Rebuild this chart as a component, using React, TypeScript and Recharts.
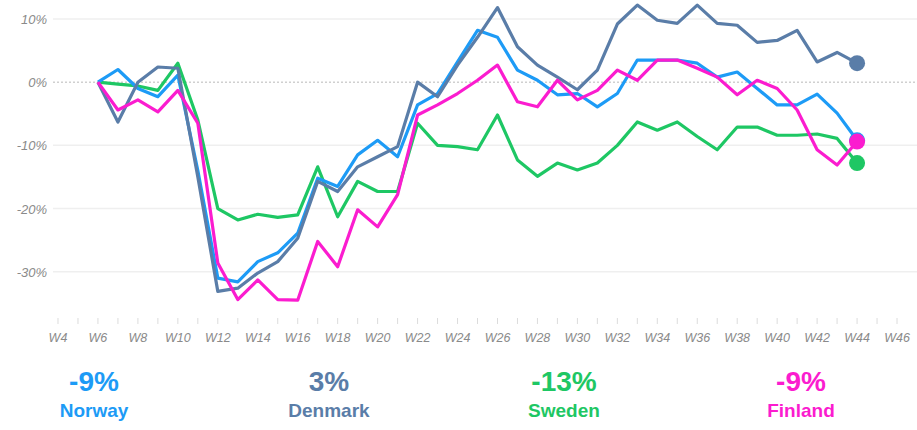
import React from "react";
import { LineChart, Line, XAxis, YAxis, ReferenceLine } from "recharts";

// ── Data (weekly change vs. W6, %) ─────────────────────────────────────────────
const WEEKS = [
    6, 7, 8, 9, 10, 11, 12, 13, 14, 15, 16, 17, 18, 19, 20, 21, 22, 23, 24, 25,
    26, 27, 28, 29, 30, 31, 32, 33, 34, 35, 36, 37, 38, 39, 40, 41, 42, 43, 44,
];

const NORWAY = [
    0, 2, -1, -2.3, 1.1, -14, -31, -31.6, -28.4, -27, -23.9, -15.2, -16.5, -11.5, -9.2,
    -11.8, -3.6, -1.8, 3.2, 8.2, 7.1, 1.9, 0.3, -2, -1.8, -3.9, -1.8, 3.5, 3.5, 3.5,
    3, 0.8, 1.6, -1, -3.6, -3.6, -1.9, -4.9, -9.2,
];
const DENMARK = [
    0, -6.3, 0, 2.4, 2.2, -15, -33.1, -32.6, -30.2, -28.4, -24.7, -15.7, -17.3, -13.4, -11.8,
    -10.2, 0, -2.3, 2.7, 7.1, 11.8, 5.6, 2.7, 0.8, -1.2, 1.9, 9.2, 12.2, 9.8, 9.3,
    12.2, 9.3, 9, 6.3, 6.6, 8.2, 3.2, 4.7, 3,
];
const SWEDEN = [
    0, -0.3, -0.6, -1.3, 3, -6, -20, -21.8, -20.9, -21.4, -21, -13.4, -21.3, -15.7, -17.3,
    -17.3, -6.5, -10, -10.2, -10.7, -5.2, -12.3, -14.9, -12.8, -13.9, -12.8, -10, -6.3, -7.6, -6.3,
    -8.6, -10.7, -7.1, -7.1, -8.4, -8.4, -8.2, -8.9, -12.8,
];
const FINLAND = [
    0, -4.4, -2.8, -4.7, -1.3, -6.5, -28.6, -34.4, -31.3, -34.4, -34.5, -25.2, -29.2, -20.2, -22.9,
    -17.8, -5.2, -3.6, -1.8, 0.3, 2.7, -3.1, -3.9, 0.3, -2.8, -1.3, 1.9, 0.3, 3.5, 3.5,
    2.2, 0.8, -2, 0.3, -1, -4.4, -10.7, -13.1, -9.4,
];

const X_TICKS = Array.from({ length: 43 }, (_, i) => i + 4); // W4..W46, label every 2nd
const Y_TICKS = [10, 0, -10, -20, -30];

const SERIES = [
    { key: "sweden", name: "Sweden", values: SWEDEN, color: "#1ec764" },
    { key: "norway", name: "Norway", values: NORWAY, color: "#1d9bf6" },
    { key: "denmark", name: "Denmark", values: DENMARK, color: "#5a7da8" },
    { key: "finland", name: "Finland", values: FINLAND, color: "#fb1ccf" },
];

// legend order as shown under the chart
const LEGEND = [
    { name: "Norway", value: "-9%", color: "#1d9bf6", center: 94 },
    { name: "Denmark", value: "3%", color: "#5a7da8", center: 329 },
    { name: "Sweden", value: "-13%", color: "#1ec764", center: 564 },
    { name: "Finland", value: "-9%", color: "#fb1ccf", center: 801 },
];

const data = WEEKS.map((w, i) => {
    const row: Record<string, number> = { week: w };
    SERIES.forEach((s) => {
        row[s.key] = s.values[i];
    });
    return row;
});

const FONT = "'Liberation Sans', Arial, Helvetica, sans-serif";

const WeekTick = (props: any) => {
    const { x, y, payload } = props;
    const w = payload.value as number;
    return (
        <g>
            <line x1={x} x2={x} y1={y - 6} y2={y} stroke="#dcdcdc" strokeWidth={1} />
            {w % 2 === 0 && (
                <text x={x} y={y + 18} textAnchor="middle" fontSize={12.5} fontStyle="italic" fill="#8a8a8a" fontFamily={FONT}>
                    {`W${w}`}
                </text>
            )}
        </g>
    );
};

const PctTick = (props: any) => {
    const { y, payload } = props;
    return (
        <text x={47} y={y + 5} textAnchor="end" fontSize={13} fontStyle="italic" fill="#8a8a8a" fontFamily={FONT}>
            {`${payload.value}%`}
        </text>
    );
};

const endDot = (color: string) => (p: any) => {
    if (p.index !== WEEKS.length - 1) return <g key={`d-${p.index}`} />;
    return <circle key={`d-${p.index}`} cx={p.cx} cy={p.cy} r={8} fill={color} />;
};

export default function App() {
    return (
        <div style={{ position: "absolute", left: 0, top: 0, width: 917, height: 430, background: "#fff" }}>
            <LineChart width={917} height={345} data={data} margin={{ top: 0, right: 0, bottom: 0, left: 0 }}>
                {Y_TICKS.filter((v) => v !== 0).map((v) => (
                    <ReferenceLine key={v} y={v} stroke="#efefef" strokeWidth={1.5} />
                ))}
                <ReferenceLine y={0} stroke="#d0d0d0" strokeWidth={1.5} strokeDasharray="2 2" />
                <XAxis
                    dataKey="week"
                    type="number"
                    domain={[3.75, 47]}
                    ticks={X_TICKS}
                    interval={0}
                    height={29}
                    axisLine={false}
                    tickLine={false}
                    tick={<WeekTick />}
                />
                <YAxis
                    type="number"
                    domain={[-37, 13]}
                    ticks={Y_TICKS}
                    width={53}
                    axisLine={false}
                    tickLine={false}
                    tick={<PctTick />}
                />
                {SERIES.map((s) => (
                    <Line
                        key={s.key}
                        dataKey={s.key}
                        stroke={s.color}
                        strokeWidth={3.2}
                        strokeLinejoin="round"
                        dot={endDot(s.color)}
                        activeDot={false}
                        isAnimationActive={false}
                    />
                ))}
            </LineChart>
            {LEGEND.map((l) => (
                <div
                    key={l.name}
                    style={{
                        position: "absolute",
                        left: l.center - 80,
                        top: 366,
                        width: 160,
                        textAlign: "center",
                        color: l.color,
                        fontFamily: FONT,
                        fontWeight: 700,
                    }}
                >
                    <div style={{ fontSize: 28, lineHeight: "32px" }}>{l.value}</div>
                    <div style={{ fontSize: 19, lineHeight: "24px", marginTop: 1 }}>{l.name}</div>
                </div>
            ))}
        </div>
    );
}
